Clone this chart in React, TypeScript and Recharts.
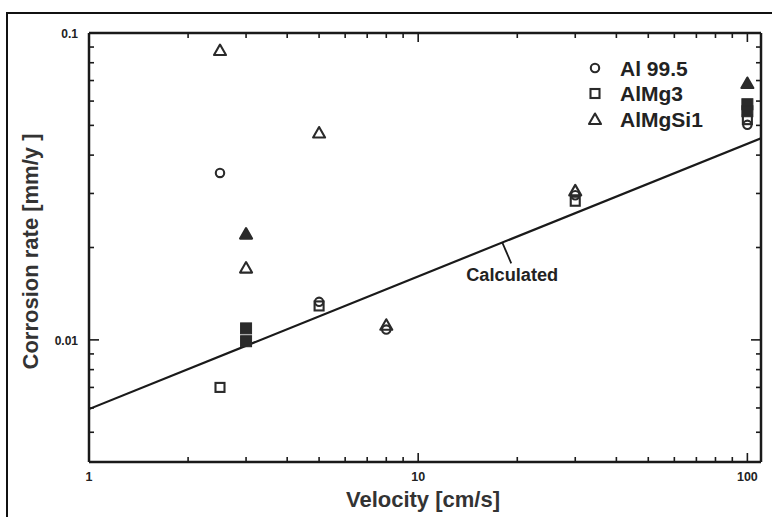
import React from 'react';
import { ComposedChart, XAxis, YAxis, Scatter, Line, ReferenceDot } from 'recharts';

// ---------- data ----------
const velocityTicks = [1, 2, 3, 4, 5, 6, 7, 8, 9, 10, 20, 30, 40, 50, 60, 70, 80, 90, 100];
const velocityMajor = [1, 10, 100];
const rateTicks = [0.005, 0.006, 0.007, 0.008, 0.009, 0.01, 0.02, 0.03, 0.04, 0.05, 0.06, 0.07, 0.08, 0.09, 0.1];
const rateMajor = [0.01, 0.1];
const velocityDomain = [1, 110];
const rateDomain = [0.004, 0.1];

const al995 = [
  { v: 2.5, r: 0.035 },
  { v: 5, r: 0.0133 },
  { v: 8, r: 0.0108 },
  { v: 30, r: 0.0296 },
  { v: 100, r: 0.0502 },
];
const almg3 = [
  { v: 2.5, r: 0.007 },
  { v: 5, r: 0.0129 },
  { v: 30, r: 0.0283 },
  { v: 100, r: 0.0522 },
];
const almgsi1 = [
  { v: 2.5, r: 0.088 },
  { v: 3, r: 0.0172 },
  { v: 5, r: 0.0474 },
  { v: 8, r: 0.0112 },
  { v: 30, r: 0.0307 },
];
const filledTriangles = [
  { v: 3, r: 0.0222 },
  { v: 100, r: 0.0687 },
];
const filledSquares = [
  { v: 3, r: 0.0109 },
  { v: 3, r: 0.0099 },
  { v: 100, r: 0.0586 },
  { v: 100, r: 0.0556 },
];
const calculated = [
  { v: 1, r: 0.00595 },
  { v: 110, r: 0.0454 },
];
const calcLabel = { v: 18, r: 0.0208, text: 'Calculated' };
const legendItems = [
  { name: 'Al 99.5', kind: 'circle' },
  { name: 'AlMg3', kind: 'square' },
  { name: 'AlMgSi1', kind: 'triangle' },
];

// ---------- styling ----------
const FONT = '"Liberation Sans", Arial, Helvetica, sans-serif';
const INK = '#1a1a1a';
const MARK = '#2a2a2a';

const Marker = ({ kind, cx, cy, filled }: { kind: string; cx: number; cy: number; filled?: boolean }) => {
  const fill = filled ? MARK : 'none';
  if (kind === 'circle') return <circle cx={cx} cy={cy} r={4.2} fill={fill} stroke={MARK} strokeWidth={2.1} />;
  if (kind === 'square') {
    const h = filled ? 5.5 : 4.5;
    return <rect x={cx - h} y={cy - h} width={2 * h} height={2 * h} fill={fill} stroke={MARK} strokeWidth={filled ? 1 : 2.1} />;
  }
  return (
    <polygon
      points={`${cx},${cy - 5.5} ${cx + 6},${cy + 5} ${cx - 6},${cy + 5}`}
      fill={fill}
      stroke={MARK}
      strokeWidth={2.1}
      strokeLinejoin="round"
    />
  );
};

const shapeOf = (kind: string, filled?: boolean) => (p: any) => <Marker kind={kind} cx={p.cx} cy={p.cy} filled={filled} />;
const noShape = () => <g />;

const XBottomTick = (p: any) => {
  const major = velocityMajor.includes(p.payload.value);
  return (
    <g>
      <line x1={p.x} x2={p.x} y1={p.y} y2={p.y - (major ? 9 : 5)} stroke={INK} strokeWidth={1.6} />
      {major && (
        <text x={p.x} y={p.y + 15} textAnchor="middle" dominantBaseline="central" fontFamily={FONT} fontWeight="bold" fontSize={12.5} fill="#222">
          {p.payload.value}
        </text>
      )}
    </g>
  );
};
const XTopTick = (p: any) => {
  const major = velocityMajor.includes(p.payload.value);
  return <line x1={p.x} x2={p.x} y1={p.y} y2={p.y + (major ? 9 : 5)} stroke={INK} strokeWidth={1.6} />;
};
const YLeftTick = (p: any) => {
  const major = rateMajor.includes(p.payload.value);
  return (
    <g>
      <line x1={p.x} x2={p.x + (major ? 10 : 5)} y1={p.y} y2={p.y} stroke={INK} strokeWidth={1.6} />
      {major && (
        <text x={p.x - 11} y={p.y + 1} textAnchor="end" dominantBaseline="central" fontFamily={FONT} fontWeight="bold" fontSize={12} fill="#222">
          {p.payload.value}
        </text>
      )}
    </g>
  );
};
const YRightTick = (p: any) => {
  const major = rateMajor.includes(p.payload.value);
  return <line x1={p.x} x2={p.x - (major ? 10 : 5)} y1={p.y} y2={p.y} stroke={INK} strokeWidth={1.6} />;
};

const XLabel = (p: any) => {
  const vb = p.viewBox || { x: 89, y: 462, width: 672, height: 55 };
  return (
    <text x={vb.x + vb.width / 2 - 2} y={vb.y + 45} textAnchor="middle" fontFamily={FONT} fontWeight="bold" fontSize={22} fill="#333">
      Velocity [cm/s]
    </text>
  );
};
const YLabel = (p: any) => {
  const vb = p.viewBox || { x: 0, y: 33, width: 89, height: 429 };
  const x = vb.x + 38;
  const y = vb.y + vb.height / 2 + 4;
  return (
    <text x={x} y={y} transform={`rotate(-90, ${x}, ${y})`} textAnchor="middle" fontFamily={FONT} fontWeight="bold" fontSize={22} fill="#333">
      Corrosion rate [mm/y ]
    </text>
  );
};

const CalcShape = (p: any) => (
  <g>
    <line x1={p.cx} y1={p.cy} x2={p.cx + 9} y2={p.cy + 21} stroke={INK} strokeWidth={1.8} />
    <text
      x={p.cx - 36}
      y={p.cy + 39}
      textLength={92}
      lengthAdjust="spacingAndGlyphs"
      fontFamily={FONT}
      fontWeight="bold"
      fontSize={18}
      fill="#222"
    >
      {calcLabel.text}
    </text>
  </g>
);

const axisLine = { stroke: INK, strokeWidth: 2.5 };

export default function App() {
  return (
    <div style={{ position: 'absolute', left: 0, top: 0, width: 772, height: 517, overflow: 'hidden', background: '#fff' }}>
      <div style={{ position: 'absolute', left: 6, top: 12, width: 900, height: 700, border: '2px solid #111', boxSizing: 'border-box' }} />
      <ComposedChart
        width={772}
        height={517}
        margin={{ top: 32, right: 10, bottom: 0, left: 0 }}
        style={{ position: 'absolute', left: 0, top: 0 }}
      >
        <XAxis
          xAxisId="b"
          dataKey="v"
          type="number"
          scale="log"
          domain={velocityDomain}
          allowDataOverflow
          ticks={velocityTicks}
          interval={0}
          height={55}
          tickSize={0}
          tickMargin={0}
          tickLine={false}
          axisLine={axisLine}
          tick={<XBottomTick />}
          label={<XLabel />}
        />
        <XAxis
          xAxisId="t"
          dataKey="v"
          orientation="top"
          type="number"
          scale="log"
          domain={velocityDomain}
          allowDataOverflow
          ticks={velocityTicks}
          interval={0}
          height={1}
          tickSize={0}
          tickMargin={0}
          tickLine={false}
          axisLine={axisLine}
          tick={<XTopTick />}
        />
        <YAxis
          yAxisId="l"
          dataKey="r"
          type="number"
          scale="log"
          domain={rateDomain}
          allowDataOverflow
          ticks={rateTicks}
          interval={0}
          width={89}
          tickSize={0}
          tickMargin={0}
          tickLine={false}
          axisLine={axisLine}
          tick={<YLeftTick />}
          label={<YLabel />}
        />
        <YAxis
          yAxisId="r"
          dataKey="r"
          orientation="right"
          type="number"
          scale="log"
          domain={rateDomain}
          allowDataOverflow
          ticks={rateTicks}
          interval={0}
          width={1}
          tickSize={0}
          tickMargin={0}
          tickLine={false}
          axisLine={axisLine}
          tick={<YRightTick />}
        />
        <Line
          xAxisId="b"
          yAxisId="l"
          data={calculated}
          dataKey="r"
          type="linear"
          stroke={INK}
          strokeWidth={2.2}
          dot={false}
          activeDot={false}
          isAnimationActive={false}
        />
        <Scatter xAxisId="t" yAxisId="r" data={calculated} shape={noShape} isAnimationActive={false} />
        <Scatter xAxisId="b" yAxisId="l" data={almg3} shape={shapeOf('square')} isAnimationActive={false} />
        <Scatter xAxisId="b" yAxisId="l" data={al995} shape={shapeOf('circle')} isAnimationActive={false} />
        <Scatter xAxisId="b" yAxisId="l" data={almgsi1} shape={shapeOf('triangle')} isAnimationActive={false} />
        <Scatter xAxisId="b" yAxisId="l" data={filledSquares} shape={shapeOf('square', true)} isAnimationActive={false} />
        <Scatter xAxisId="b" yAxisId="l" data={filledTriangles} shape={shapeOf('triangle', true)} isAnimationActive={false} />
        <ReferenceDot xAxisId="b" yAxisId="l" x={calcLabel.v} y={calcLabel.r} r={0} shape={CalcShape} />
      </ComposedChart>
      <svg width={772} height={517} style={{ position: 'absolute', left: 0, top: 0, pointerEvents: 'none' }}>
        {legendItems.map((item, i) => (
          <g key={item.name}>
            <Marker kind={item.kind} cx={595} cy={68 + i * 25.5} />
            <text x={620} y={68 + i * 25.5} dominantBaseline="central" fontFamily={FONT} fontWeight="bold" fontSize={21} fill="#222">
              {item.name}
            </text>
          </g>
        ))}
      </svg>
    </div>
  );
}
